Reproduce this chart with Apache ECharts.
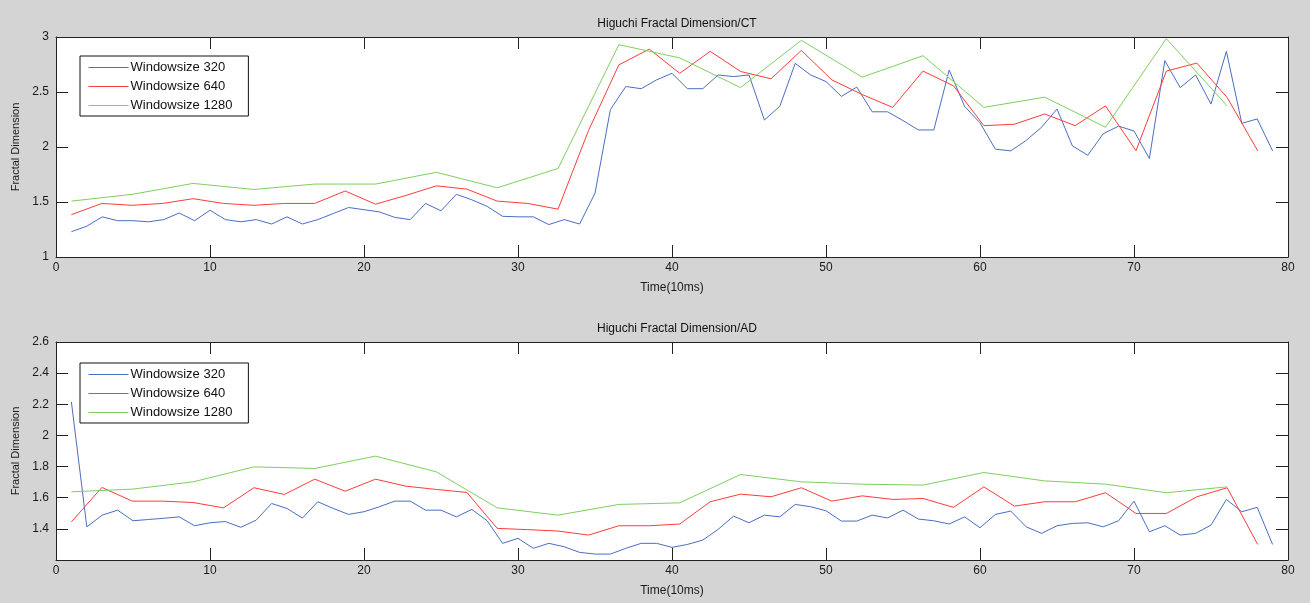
<!DOCTYPE html>
<html>
<head>
<meta charset="utf-8">
<script src="https://cdn.jsdelivr.net/npm/echarts@6/dist/echarts.min.js"></script>
<style>
html,body{margin:0;padding:0;background:#d4d4d4;}
#c{width:1310px;height:603px;}
</style>
</head>
<body>
<div id="c"></div>
<script>
// ---- data ----
var seriesNames = ['Windowsize 320', 'Windowsize 640', 'Windowsize 1280'];
var titles = ['Higuchi Fractal Dimension/CT', 'Higuchi Fractal Dimension/AD'];
var xTicks = [0, 10, 20, 30, 40, 50, 60, 70, 80];
var yTicksCT = [1, 1.5, 2, 2.5, 3];
var yTicksAD = [1.2, 1.4, 1.6, 1.8, 2, 2.2, 2.4, 2.6];

var x320 = [1,2,3,4,5,6,7,8,9,10,11,12,13,14,15,16,17,18,19,20,21,22,23,24,25,26,27,28,29,30,
  31,32,33,34,35,36,37,38,39,40,41,42,43,44,45,46,47,48,49,50,51,52,53,54,55,56,57,58,59,60,
  61,62,63,64,65,66,67,68,69,70,71,72,73,74,75,76,77,78,79];
var x640 = [1, 2.98, 4.95, 6.93, 8.9, 10.88, 12.85, 14.83, 16.8, 18.78, 20.75, 22.73, 24.7, 26.68,
  28.65, 30.63, 32.6, 34.58, 36.55, 38.53, 40.5, 42.48, 44.45, 46.43, 48.4, 50.38, 52.35, 54.33,
  56.3, 58.28, 60.25, 62.23, 64.2, 66.18, 68.15, 70.13, 72.1, 74.08, 76.05, 78.03];
var x1280 = [1, 4.95, 8.9, 12.85, 16.8, 20.75, 24.7, 28.65, 32.6, 36.55, 40.5, 44.45, 48.4, 52.35,
  56.3, 60.25, 64.2, 68.15, 72.1, 76.05];

var ct320 = [1.23,1.28,1.365,1.33,1.33,1.32,1.34,1.40,1.33,1.425,
  1.34,1.32,1.34,1.30,1.365,1.30,1.34,1.395,1.45,1.43,
  1.41,1.36,1.34,1.487,1.42,1.57,1.52,1.46,1.37,1.365,
  1.365,1.295,1.34,1.30,1.58,2.34,2.55,2.53,2.61,2.67,
  2.53,2.53,2.655,2.64,2.655,2.245,2.37,2.76,2.655,2.595,
  2.46,2.545,2.32,2.32,2.24,2.155,2.155,2.70,2.37,2.22,
  1.98,1.965,2.06,2.18,2.345,2.01,1.925,2.12,2.19,2.145,
  1.895,2.785,2.54,2.655,2.39,2.87,2.215,2.255,1.965];
var ct640 = [1.385,1.487,1.47,1.487,1.53,1.487,1.47,1.487,1.487,1.60,
  1.48,1.56,1.647,1.617,1.508,1.487,1.435,2.15,2.747,2.89,
  2.67,2.87,2.687,2.62,2.878,2.61,2.477,2.36,2.69,2.556,
  2.194,2.207,2.30,2.194,2.374,1.966,2.69,2.763,2.45,1.966];
var ct1280 = [1.508,1.57,1.669,1.614,1.663,1.663,1.77,1.629,1.805,2.93,
  2.81,2.54,2.97,2.635,2.83,2.36,2.453,2.18,2.985,2.374];

var ad320 = [2.215,1.413,1.488,1.52,1.452,1.46,1.468,1.477,1.42,1.439,
  1.447,1.41,1.456,1.563,1.531,1.469,1.574,1.531,1.493,1.51,
  1.542,1.578,1.578,1.52,1.52,1.477,1.525,1.452,1.307,1.339,
  1.275,1.307,1.285,1.249,1.238,1.238,1.275,1.307,1.307,1.281,
  1.30,1.328,1.397,1.482,1.439,1.488,1.477,1.557,1.542,1.516,
  1.45,1.45,1.488,1.47,1.52,1.463,1.452,1.431,1.477,1.407,
  1.493,1.514,1.413,1.371,1.42,1.435,1.439,1.413,1.452,1.578,
  1.381,1.42,1.36,1.371,1.424,1.589,1.51,1.538,1.30];
var ad640 = [1.445,1.666,1.578,1.578,1.569,1.535,1.664,1.621,1.719,1.642,
  1.719,1.674,1.653,1.634,1.403,1.395,1.386,1.36,1.42,1.42,
  1.431,1.574,1.623,1.606,1.664,1.578,1.612,1.589,1.595,1.538,
  1.67,1.546,1.574,1.574,1.632,1.499,1.499,1.606,1.664,1.30];
var ad1280 = [1.638,1.655,1.702,1.798,1.788,1.867,1.766,1.535,1.488,1.557,
  1.567,1.749,1.702,1.687,1.681,1.762,1.708,1.687,1.632,1.67];

// ---- build ----
var colors = ['#4a6ec4', '#ff3b3b', '#7fcf5f'];
var FONT = '"Liberation Sans", Arial, sans-serif';
function pairs(xs, ys) { return xs.map(function (x, i) { return [x, ys[i]]; }); }

var grids = [
  {left: 56, right: 22, top: 37, height: 220, show: true, backgroundColor: '#fff', borderWidth: 0,
   containLabel: false, outerBoundsMode: 'none'},
  {left: 56, right: 22, top: 342, height: 218, show: true, backgroundColor: '#fff', borderWidth: 0,
   containLabel: false, outerBoundsMode: 'none'}
];
var axisLine = {show: true, onZero: false, lineStyle: {color: '#222', width: 1}};
var tick = {show: true, inside: true, length: 12, lineStyle: {color: '#222', width: 1}};
var lbl = {color: '#1a1a1a', fontSize: 12, fontFamily: FONT};

var xAxes = [], yAxes = [];
[0, 1].forEach(function (g) {
  xAxes.push({type: 'value', gridIndex: g, min: xTicks[0], max: xTicks[xTicks.length - 1], interval: 10,
    position: 'bottom', axisLine: axisLine, axisTick: tick, splitLine: {show: false},
    axisLabel: Object.assign({margin: 5}, lbl),
    name: 'Time(10ms)', nameLocation: 'middle', nameGap: 25,
    nameTextStyle: {color: '#1a1a1a', fontSize: 12, fontFamily: FONT}});
  xAxes.push({type: 'value', gridIndex: g, min: xTicks[0], max: xTicks[xTicks.length - 1], interval: 10,
    position: 'top', axisLine: axisLine, axisTick: tick, splitLine: {show: false}, axisLabel: {show: false}});
});
var yT = [yTicksCT, yTicksAD];
var yInt = [0.5, 0.2];
[0, 1].forEach(function (g) {
  var t = yT[g];
  yAxes.push({type: 'value', gridIndex: g, min: t[0], max: t[t.length - 1], interval: yInt[g],
    position: 'left', axisLine: axisLine, axisTick: tick, splitLine: {show: false},
    axisLabel: Object.assign({margin: 7, formatter: function (v) {
      if (g === 1 && Math.abs(v - 1.2) < 1e-6) return '';
      return String(Math.round(v * 10) / 10);
    }}, lbl),
    name: 'Fractal Dimension', nameLocation: 'middle', nameGap: 34,
    nameTextStyle: {color: '#1a1a1a', fontSize: 11, fontFamily: FONT}});
  yAxes.push({type: 'value', gridIndex: g, min: t[0], max: t[t.length - 1], interval: yInt[g],
    position: 'right', axisLine: axisLine, axisTick: tick, splitLine: {show: false}, axisLabel: {show: false}});
});

var dataSets = [[pairs(x320, ct320), pairs(x640, ct640), pairs(x1280, ct1280)],
                [pairs(x320, ad320), pairs(x640, ad640), pairs(x1280, ad1280)]];
var series = [];
[0, 1].forEach(function (g) {
  dataSets[g].forEach(function (d, i) {
    series.push({name: seriesNames[i], type: 'line', xAxisIndex: g * 2, yAxisIndex: g * 2,
      data: d, symbol: 'none', showSymbol: false, smooth: false, animation: false,
      lineStyle: {color: colors[i], width: 1}, itemStyle: {color: colors[i]}});
  });
});

var legendTops = [56, 363];
var legends = legendTops.map(function (tp) {
  return {show: true, orient: 'vertical', left: 80, top: tp, data: seriesNames, itemWidth: 40, itemHeight: 14,
    itemGap: 6, padding: [5, 16, 4, 8], borderColor: '#111', borderWidth: 1, backgroundColor: '#fff',
    selectedMode: false, itemStyle: {opacity: 0, borderWidth: 0}, lineStyle: {width: 1},
    textStyle: {color: '#111', fontSize: 13, fontFamily: FONT, padding: [0, 0, 0, -3]}};
});

var titleTops = [13, 318];
var titleObjs = titleTops.map(function (tp, i) {
  return {text: titles[i], left: 672, top: tp, textAlign: 'center',
    textStyle: {color: '#111', fontSize: 12, fontWeight: 'normal', fontFamily: FONT}};
});

var chart = echarts.init(document.getElementById('c'));
chart.setOption({
  backgroundColor: '#d4d4d4',
  animation: false,
  title: titleObjs,
  legend: legends,
  grid: grids,
  xAxis: xAxes,
  yAxis: yAxes,
  series: series
});
</script>
</body>
</html>
